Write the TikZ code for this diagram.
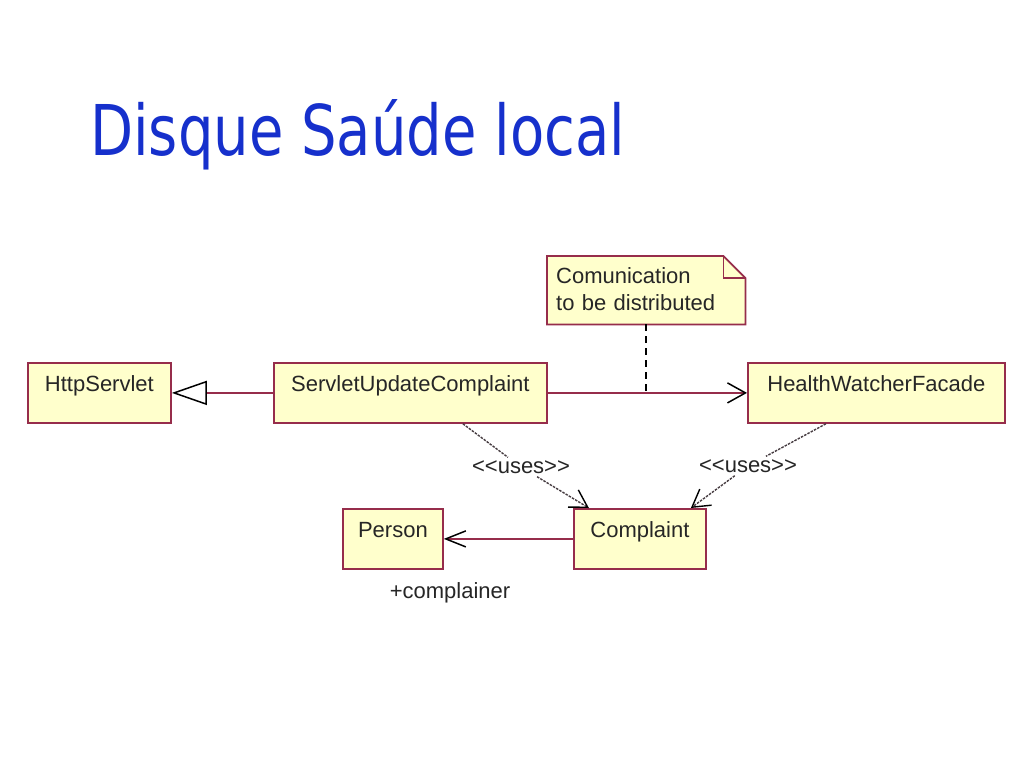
\documentclass[tikz,border=0pt]{standalone}
\usepackage{fontspec}
\setmainfont{Liberation Sans}
\newfontfamily\titlefont{DejaVu Sans}
\usetikzlibrary{arrows.meta,calc}
\definecolor{boxfill}{RGB}{255,255,204}
\definecolor{umlred}{RGB}{150,45,75}
\definecolor{titleblue}{RGB}{22,48,204}
\definecolor{usesgray}{RGB}{70,60,65}
\begin{document}
\begin{tikzpicture}[x=1pt,y=-1pt,
  cls/.style={draw=umlred, fill=boxfill, line width=1.8pt, anchor=north west,
    font=\fontsize{22}{26}\selectfont, inner xsep=0pt, inner ysep=6pt,
    text height=23pt, text depth=25pt, minimum height=60pt, text=black!85},
  assoc/.style={draw=umlred, line width=1.8pt},
  usesline/.style={draw=usesgray, line width=1.4pt, dash pattern=on 2.5pt off 1.2pt},
  barb/.style={-{Straight Barb[length=18pt, width=20pt, line width=1.5pt, color=black]}},
  usesbarb/.style={-{Straight Barb[length=17pt, width=20pt, line width=1.4pt, color=black]}},
  lbl/.style={font=\fontsize{22}{26}\selectfont, inner sep=3pt, text=black!85}
]
\fill[white] (0,0) rectangle (1024,768);
\useasboundingbox (0,0) rectangle (1024,768);

% title
\node[anchor=base west, inner sep=0pt, text=titleblue,
      font=\titlefont\fontsize{56}{60}\selectfont] (title) at (90,155)
      {\scalebox{1}[1.25]{Disque Saúde local}};

% classes
\node[cls, minimum width=143pt] (http) at (27,362) {HttpServlet};
\node[cls, minimum width=273pt] (suc) at (273,362) {ServletUpdateComplaint};
\node[cls, minimum width=257pt] (hwf) at (747,362) {HealthWatcherFacade};
\node[cls, minimum width=100pt] (person) at (342,508) {Person};
\node[cls, minimum width=132pt] (cmp) at (573,508) {Complaint};

% note
\node[anchor=north west, inner xsep=9pt, inner ysep=0pt, text width=180pt, align=left,
      text height=27pt, text depth=41pt,
      font=\fontsize{22}{27}\selectfont] (note) at (547,256)
      {\phantom{Comunication}};
\draw[draw=umlred, fill=boxfill, line width=1.8pt]
  (note.north west) -- ([xshift=-22pt]note.north east) -- ([yshift=-22pt]note.north east)
  -- (note.south east) -- (note.south west) -- cycle;
\draw[draw=umlred, line width=1.5pt]
  ([xshift=-22pt]note.north east) -- ([xshift=-22pt,yshift=-22pt]note.north east)
  -- ([yshift=-22pt]note.north east);
\node[anchor=north west, inner xsep=9pt, inner ysep=0pt, text width=180pt, align=left,
      text height=27pt, text depth=41pt, text=black!85,
      font=\fontsize{22}{27}\selectfont] (notetext) at (547,256)
      {Comunication\\to be distributed};

% generalization
\draw[assoc, -{Triangle[open, length=35pt, width=24pt, line width=1.5pt, color=black]}]
  (suc.west) -- (http.east);

% association to facade
\draw[assoc, barb] (suc.east) -- (hwf.west);
\coordinate (ann) at (note.south |- suc.east);
\draw[draw=black, line width=1.6pt, dash pattern=on 7pt off 5pt] (note.south) -- (ann);

% association to person
\draw[assoc, -{Straight Barb[length=20pt, width=16pt, line width=1.5pt, color=black]}]
  (cmp.west) -- (person.east);
\node[lbl] (role) at (450,593) {+complainer};

% uses dependencies
\node[lbl] (u1) at (521,467) {<{}<uses>{}>};
\node[lbl] (u2) at (748,466) {<{}<uses>{}>};
\draw[usesline] ([xshift=52.5pt]suc.south) -- (u1);
\draw[usesline, usesbarb] (u1) -- ([xshift=-51pt]cmp.north);
\draw[usesline] ([xshift=-50.5pt]hwf.south) -- (u2);
\draw[usesline, usesbarb] (u2) -- ([xshift=51pt]cmp.north);
\end{tikzpicture}
\end{document}
